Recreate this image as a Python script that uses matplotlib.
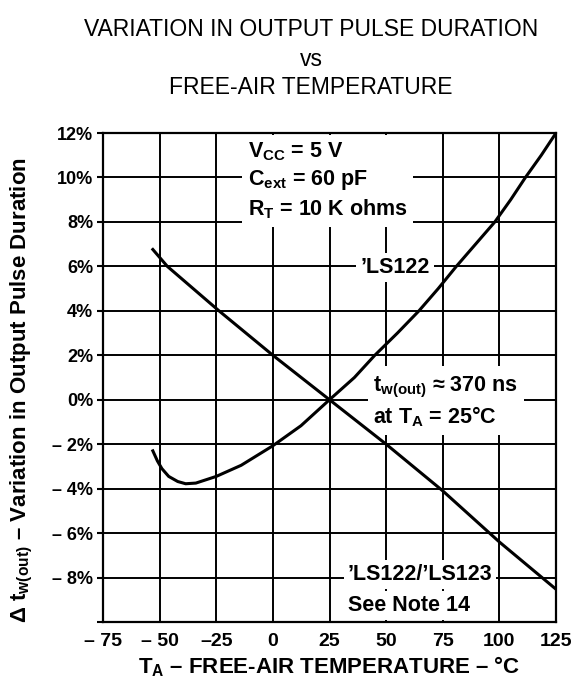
import matplotlib
matplotlib.use('Agg')
import matplotlib.pyplot as plt

plt.rcParams['font.family'] = ['Liberation Sans', 'DejaVu Sans']
plt.rcParams['mathtext.fontset'] = 'custom'
plt.rcParams['mathtext.rm'] = 'Liberation Sans'
plt.rcParams['mathtext.bf'] = 'Liberation Sans:bold'
plt.rcParams['mathtext.it'] = 'Liberation Sans:italic'

# 'LS122 curve
temp_122 = [-53, -51, -49, -46, -42, -38.5, -34, -25, -14, 0, 12.4, 25, 36, 45, 55, 64.5,
            73, 81, 89.5, 98, 105, 111.5, 118.5, 125]
var_122 = [-2.3, -2.75, -3.1, -3.45, -3.68, -3.78, -3.75, -3.45, -2.95, -2.07, -1.17, 0,
           1.0, 2.0, 3.0, 4.0, 5.0, 6.0, 7.0, 8.0, 9.0, 10.0, 11.0, 12.0]

# 'LS122/'LS123 line
temp_123 = [-53, -46.6, -23.8, 0, 25, 50, 75, 100, 124.7]
var_123 = [6.76, 6.0, 4.0, 2.0, 0, -2.0, -4.1, -6.4, -8.5]

x_ticks = [-75, -50, -25, 0, 25, 50, 75, 100, 125]
x_labels = ['\u2013 75', '\u2013 50', '\u201325', '0', '25', '50', '75', '100', '125']
y_ticks = [-10, -8, -6, -4, -2, 0, 2, 4, 6, 8, 10, 12]
y_labels = ['', '\u2013 8%', '\u2013 6%', '\u2013 4%', '\u2013 2%', '0%', '2%', '4%', '6%', '8%', '10%', '12%']

fig = plt.figure(figsize=(5.76, 6.87), dpi=100)
ax = fig.add_axes([103/576, 1-622/687, (556-103)/576, (622-133)/687])

ax.plot(temp_122, var_122, color='black', lw=2.2, zorder=5)
ax.plot(temp_123, var_123, color='black', lw=2.2, zorder=5)

ax.set_xlim(-75, 125)
ax.set_ylim(-10, 12)
ax.set_xticks(x_ticks)
ax.set_xticklabels(x_labels, fontsize=14, fontweight='bold')
ax.set_yticks(y_ticks)
ax.set_yticklabels(y_labels, fontsize=13, fontweight='bold')
ax.tick_params(axis='x', length=0, pad=8)
ax.tick_params(axis='y', length=4, width=1.5, direction='out', pad=3)
ax.grid(True, color='black', lw=1.4, zorder=1)
ax.set_axisbelow(True)
for s in ax.spines.values():
    s.set_linewidth(1.6)

fs = 15.5
box = dict(facecolor='white', edgecolor='none', pad=3)
ax.text(-11, 11.65, 'V$_\\mathbf{CC}$ = 5 V\nC$_\\mathbf{ext}$ = 60 pF\nR$_\\mathbf{T}$ = 10 K ohms',
        fontsize=fs, fontweight='bold', va='top', ha='left', linespacing=1.3,
        bbox=dict(facecolor='white', edgecolor='none', pad=4), zorder=3)
ax.text(38.7, 5.95, "\u2019LS122", fontsize=fs, fontweight='bold', va='center', ha='left',
        bbox=box, zorder=3)
ax.text(44.4, -0.1, 't$_\\mathbf{w(out)}$ \u2248 370 ns\nat T$_\\mathbf{A}$ = 25\u00b0C',
        fontsize=fs, fontweight='bold', va='center', ha='left', linespacing=1.25,
        bbox=dict(facecolor='white', edgecolor='none', pad=4), zorder=3)
ax.text(33, -7.85, "\u2019LS122/\u2019LS123", fontsize=fs, fontweight='bold', va='center', ha='left',
        bbox=box, zorder=3)
ax.text(33, -9.25, 'See Note 14', fontsize=fs, fontweight='bold', va='center', ha='left',
        bbox=box, zorder=3)

ax.set_xlabel('T$_\\mathbf{A}$ \u2013 FREE-AIR TEMPERATURE \u2013 \u00b0C', fontsize=16, fontweight='bold', labelpad=3)
fig.text(22/576, 1-390/687, '\u0394 t$_\\mathbf{w(out)}$ \u2013 Variation in Output Pulse Duration',
         rotation=90, fontsize=16, fontweight='bold', ha='center', va='center')

fig.text(0.54, 1-30/687, 'VARIATION IN OUTPUT PULSE DURATION', fontsize=16.5, ha='center', va='center')
fig.text(0.54, 1-59/687, 'vs', fontsize=16.5, ha='center', va='center')
fig.text(0.54, 1-87/687, 'FREE-AIR TEMPERATURE', fontsize=16.5, ha='center', va='center')

fig.savefig('out.png', dpi=100)
plt.close()
